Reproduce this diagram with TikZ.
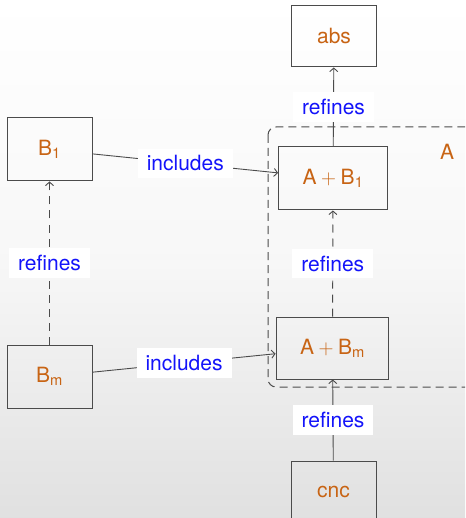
\documentclass[tikz,border=0pt]{standalone}
\usepackage{fontspec}
\setmainfont{TeX Gyre Heros}
\usetikzlibrary{arrows.meta}
\definecolor{txtor}{RGB}{200,100,20}
\definecolor{lblue}{RGB}{20,20,250}
\definecolor{lgray}{RGB}{75,75,75}
\tikzset{
  box/.style={draw=lgray, line width=1pt, minimum width=85pt, minimum height=61pt,
    inner xsep=24pt, text=txtor, font=\fontsize{21}{24}\selectfont},
  lbl/.style={fill=white, text=lblue, inner xsep=9pt, inner ysep=7pt,
    font=\fontsize{21}{24}\selectfont},
  conn/.style={draw=lgray, line width=0.9pt, -{Straight Barb[length=3.5pt,width=8pt]}},
  dconn/.style={conn, dash pattern=on 8pt off 6pt},
}
\begin{document}
\begin{tikzpicture}[x=1pt,y=-1pt]
\useasboundingbox (0,0) rectangle (465,518);
\clip (0,0) rectangle (465,518);
\shade[top color=white, bottom color=black!12, middle color=white!97!black] (0,0) rectangle (465,518);
\draw[lgray, line width=1pt, dash pattern=on 8pt off 5pt, rounded corners=8pt]
  (268,127) rectangle (480,387);
\node[text=txtor, font=\fontsize{21}{24}\selectfont] (lblA) at (447,152) {A};
\node[box] (abs) at (334,36.5) {abs};
\node[box, minimum height=63pt] (ab1) at (333,178.5) {A${}+{}$B\textsubscript{1}};
\node[box, minimum height=62pt] (abm) at (332.5,348) {A${}+{}$B\textsubscript{m}};
\node[box, minimum height=63pt] (b1) at (49.5,149.5) {B\textsubscript{1}};
\node[box, minimum height=63pt] (bm) at (49.5,376.5) {B\textsubscript{m}};
\node[box] (cnc) at (333.5,491.5) {cnc};
\draw[conn] (ab1) -- node[lbl]{refines} (abs);
\draw[dconn] (abm) -- node[lbl]{refines} (ab1);
\draw[conn] (cnc) -- node[lbl]{refines} (abm);
\draw[dconn] (bm) -- node[lbl]{refines} (b1);
\draw[conn] (b1) -- node[lbl]{includes} (ab1);
\draw[conn] (bm) -- node[lbl]{includes} (abm);
\end{tikzpicture}
\end{document}
